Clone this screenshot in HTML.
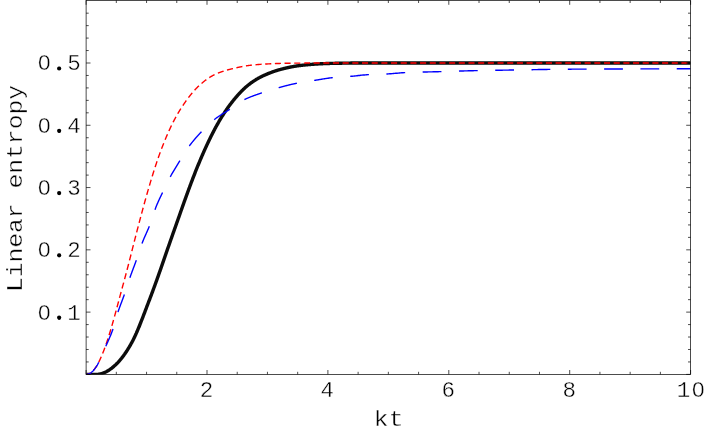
<!DOCTYPE html>
<html><head><meta charset="utf-8"><title>Linear entropy</title>
<style>
html,body{margin:0;padding:0;background:#fff;}
body{width:705px;height:436px;overflow:hidden;}
svg{display:block;}
svg{will-change:transform;}
text{font-family:"Liberation Mono",monospace;font-size:22.5px;letter-spacing:1.30px;fill:#000;stroke:#fff;stroke-width:0.38px;stroke-linejoin:round;}
text.lt{font-size:22px;letter-spacing:0;stroke-width:0.35px;}
</style></head><body>
<svg width="705" height="436" viewBox="0 0 705 436">
<rect width="705" height="436" fill="#fff"/>
<defs><clipPath id="c"><rect x="86.1" y="0.4" width="604.50" height="374.00"/></clipPath></defs>
<g clip-path="url(#c)" fill="none" stroke-linecap="butt" stroke-linejoin="round">
<path d="M86.40,374.40 L86.70,374.40 L87.00,374.40 L87.31,374.40 L87.61,374.40 L87.91,374.40 L88.21,374.40 L88.51,374.40 L88.82,374.40 L89.12,374.40 L89.42,374.40 L89.72,374.40 L90.03,374.40 L90.33,374.40 L90.63,374.40 L90.93,374.40 L91.23,374.40 L91.54,374.40 L91.84,374.40 L92.14,374.40 L92.44,374.40 L92.74,374.40 L93.05,374.40 L93.35,374.40 L93.65,374.40 L93.95,374.40 L94.25,374.40 L94.56,374.40 L94.86,374.40 L95.16,374.40 L95.46,374.40 L95.77,374.40 L96.07,374.40 L96.37,374.40 L96.67,374.40 L96.97,374.40 L97.28,374.40 L97.58,374.40 L97.88,374.40 L98.18,374.35 L98.48,374.30 L98.79,374.25 L99.09,374.19 L99.39,374.13 L99.69,374.07 L99.99,374.00 L100.30,373.93 L100.60,373.86 L100.90,373.78 L101.20,373.70 L101.51,373.61 L101.81,373.52 L102.11,373.43 L102.41,373.33 L102.71,373.23 L103.02,373.13 L103.32,373.02 L103.62,372.91 L103.92,372.79 L104.22,372.67 L104.53,372.54 L104.83,372.41 L105.13,372.27 L105.43,372.13 L105.73,371.98 L106.04,371.83 L106.34,371.67 L106.64,371.51 L106.94,371.34 L107.24,371.17 L107.55,370.99 L107.85,370.81 L108.15,370.63 L108.45,370.44 L108.76,370.24 L109.06,370.04 L109.36,369.84 L109.66,369.63 L109.96,369.42 L110.27,369.21 L110.57,368.99 L110.87,368.77 L111.17,368.54 L111.47,368.31 L111.78,368.08 L112.08,367.84 L112.38,367.60 L112.68,367.36 L112.98,367.11 L113.29,366.86 L113.59,366.61 L113.89,366.35 L114.19,366.09 L114.50,365.82 L114.80,365.55 L115.10,365.28 L115.40,365.00 L115.70,364.72 L116.01,364.43 L116.31,364.13 L116.61,363.84 L116.91,363.53 L117.21,363.23 L117.52,362.91 L117.82,362.60 L118.12,362.27 L118.42,361.95 L118.72,361.62 L119.03,361.28 L119.33,360.94 L119.63,360.59 L119.93,360.24 L120.24,359.88 L120.54,359.52 L120.84,359.16 L121.14,358.79 L121.44,358.41 L121.75,358.03 L122.05,357.64 L122.35,357.25 L122.65,356.86 L122.95,356.46 L123.26,356.05 L123.56,355.64 L123.86,355.22 L124.16,354.80 L124.46,354.38 L124.77,353.95 L125.07,353.51 L125.37,353.07 L125.67,352.62 L125.98,352.17 L126.28,351.72 L126.58,351.26 L126.88,350.79 L127.18,350.32 L127.49,349.84 L127.79,349.36 L128.09,348.87 L128.39,348.38 L128.69,347.89 L129.00,347.39 L129.30,346.88 L129.60,346.37 L129.90,345.85 L130.20,345.33 L130.51,344.80 L130.81,344.27 L131.11,343.73 L131.41,343.19 L131.72,342.65 L132.02,342.09 L132.32,341.53 L132.62,340.95 L132.92,340.37 L133.23,339.78 L133.53,339.17 L133.83,338.56 L134.13,337.94 L134.43,337.31 L134.74,336.67 L135.04,336.03 L135.34,335.37 L135.64,334.71 L135.94,334.04 L136.25,333.37 L136.55,332.68 L136.85,331.99 L137.15,331.29 L137.45,330.59 L137.76,329.88 L138.06,329.16 L138.36,328.44 L138.66,327.71 L138.97,326.98 L139.27,326.24 L139.57,325.50 L139.87,324.75 L140.17,323.99 L140.48,323.24 L140.78,322.47 L141.08,321.71 L141.38,320.94 L141.68,320.16 L141.99,319.39 L142.29,318.61 L142.59,317.83 L142.89,317.04 L143.19,316.26 L143.50,315.47 L143.80,314.67 L144.10,313.88 L144.40,313.09 L144.71,312.29 L145.01,311.49 L145.31,310.70 L145.61,309.90 L145.91,309.10 L146.22,308.30 L146.52,307.50 L146.82,306.70 L147.12,305.91 L147.42,305.11 L147.73,304.31 L148.03,303.52 L148.33,302.73 L148.63,301.93 L148.93,301.15 L149.24,300.36 L149.54,299.57 L149.84,298.78 L150.14,297.99 L150.45,297.19 L150.75,296.39 L151.05,295.59 L151.35,294.79 L151.65,293.98 L151.96,293.18 L152.26,292.37 L152.56,291.55 L152.86,290.74 L153.16,289.92 L153.47,289.10 L153.77,288.28 L154.07,287.46 L154.37,286.63 L154.67,285.80 L154.98,284.97 L155.28,284.14 L155.58,283.31 L155.88,282.47 L156.19,281.63 L156.49,280.80 L156.79,279.95 L157.09,279.11 L157.39,278.26 L157.70,277.42 L158.00,276.57 L158.30,275.72 L158.60,274.87 L158.90,274.01 L159.21,273.16 L159.51,272.30 L159.81,271.44 L160.11,270.58 L160.41,269.72 L160.72,268.86 L161.02,267.99 L161.32,267.13 L161.62,266.26 L161.93,265.40 L162.23,264.53 L162.53,263.66 L162.83,262.78 L163.13,261.91 L163.44,261.04 L163.74,260.16 L164.04,259.29 L164.34,258.41 L164.64,257.53 L164.95,256.66 L165.25,255.78 L165.55,254.90 L165.85,254.02 L166.15,253.15 L166.46,252.28 L166.76,251.40 L167.06,250.53 L167.36,249.66 L167.66,248.79 L167.97,247.93 L168.27,247.06 L168.57,246.19 L168.87,245.33 L169.18,244.46 L169.48,243.60 L169.78,242.74 L170.08,241.88 L170.38,241.02 L170.69,240.16 L170.99,239.30 L171.29,238.44 L171.59,237.58 L171.89,236.72 L172.20,235.86 L172.50,235.01 L172.80,234.15 L173.10,233.29 L173.40,232.44 L173.71,231.58 L174.01,230.73 L174.31,229.87 L174.61,229.02 L174.92,228.16 L175.22,227.31 L175.52,226.46 L175.82,225.60 L176.12,224.75 L176.43,223.89 L176.73,223.04 L177.03,222.19 L177.33,221.33 L177.63,220.48 L177.94,219.62 L178.24,218.77 L178.54,217.91 L178.84,217.06 L179.14,216.20 L179.45,215.35 L179.75,214.49 L180.05,213.63 L180.35,212.78 L180.66,211.92 L180.96,211.06 L181.26,210.20 L181.56,209.35 L181.86,208.49 L182.17,207.64 L182.47,206.79 L182.77,205.93 L183.07,205.08 L183.37,204.23 L183.68,203.38 L183.98,202.54 L184.28,201.69 L184.58,200.85 L184.88,200.00 L185.19,199.16 L185.49,198.32 L185.79,197.48 L186.09,196.64 L186.40,195.81 L186.70,194.97 L187.00,194.14 L187.30,193.31 L187.60,192.48 L187.91,191.65 L188.21,190.83 L188.51,190.01 L188.81,189.19 L189.11,188.37 L189.42,187.55 L189.72,186.74 L190.02,185.92 L190.32,185.11 L190.62,184.31 L190.93,183.50 L191.23,182.70 L191.53,181.90 L191.83,181.10 L192.13,180.30 L192.44,179.51 L192.74,178.72 L193.04,177.93 L193.34,177.15 L193.65,176.36 L193.95,175.58 L194.25,174.81 L194.55,174.03 L194.85,173.26 L195.16,172.49 L195.46,171.73 L195.76,170.96 L196.06,170.20 L196.36,169.45 L196.67,168.69 L196.97,167.94 L197.27,167.20 L197.57,166.45 L197.87,165.71 L198.18,164.97 L198.48,164.24 L198.78,163.51 L199.08,162.78 L199.39,162.05 L199.69,161.33 L199.99,160.61 L200.29,159.90 L200.59,159.18 L200.90,158.47 L201.20,157.76 L201.50,157.06 L201.80,156.36 L202.10,155.66 L202.41,154.97 L202.71,154.27 L203.01,153.58 L203.31,152.90 L203.61,152.22 L203.92,151.54 L204.22,150.86 L204.52,150.18 L204.82,149.51 L205.13,148.85 L205.43,148.18 L205.73,147.52 L206.03,146.86 L206.33,146.20 L206.64,145.55 L206.94,144.90 L207.24,144.25 L207.54,143.61 L207.84,142.97 L208.15,142.33 L208.45,141.69 L208.75,141.06 L209.05,140.43 L209.35,139.80 L209.66,139.18 L209.96,138.56 L210.26,137.94 L210.56,137.32 L210.87,136.71 L211.17,136.10 L211.47,135.49 L211.77,134.89 L212.07,134.29 L212.38,133.70 L212.68,133.11 L212.98,132.52 L213.28,131.93 L213.58,131.35 L213.89,130.77 L214.19,130.20 L214.49,129.63 L214.79,129.06 L215.09,128.50 L215.40,127.94 L215.70,127.38 L216.00,126.82 L216.30,126.27 L216.61,125.73 L216.91,125.18 L217.21,124.64 L217.51,124.10 L217.81,123.57 L218.12,123.04 L218.42,122.51 L218.72,121.99 L219.02,121.47 L219.32,120.95 L219.63,120.44 L219.93,119.93 L220.23,119.42 L220.53,118.91 L220.83,118.41 L221.14,117.92 L221.44,117.42 L221.74,116.93 L222.04,116.44 L222.34,115.96 L222.65,115.48 L222.95,115.00 L223.25,114.53 L223.55,114.05 L223.86,113.59 L224.16,113.12 L224.46,112.66 L224.76,112.20 L225.06,111.74 L225.37,111.29 L225.67,110.84 L225.97,110.39 L226.27,109.95 L226.57,109.51 L226.88,109.07 L227.18,108.64 L227.48,108.21 L227.78,107.78 L228.08,107.36 L228.39,106.93 L228.69,106.51 L228.99,106.10 L229.29,105.68 L229.60,105.27 L229.90,104.87 L230.20,104.46 L230.50,104.06 L230.80,103.66 L231.11,103.27 L231.41,102.87 L231.71,102.48 L232.01,102.10 L232.31,101.71 L232.62,101.33 L232.92,100.95 L233.22,100.57 L233.52,100.20 L233.82,99.83 L234.13,99.46 L234.43,99.09 L234.73,98.73 L235.03,98.37 L235.34,98.01 L235.64,97.66 L235.94,97.31 L236.24,96.95 L236.54,96.61 L236.85,96.26 L237.15,95.91 L237.45,95.57 L237.75,95.23 L238.05,94.90 L238.36,94.56 L238.66,94.23 L238.96,93.90 L239.26,93.57 L239.56,93.25 L239.87,92.93 L240.17,92.61 L240.47,92.29 L240.77,91.98 L241.08,91.66 L241.38,91.35 L241.68,91.05 L241.98,90.74 L242.28,90.44 L242.59,90.14 L242.89,89.85 L243.19,89.55 L243.49,89.26 L243.79,88.98 L244.10,88.69 L244.40,88.41 L244.70,88.13 L245.00,87.85 L245.30,87.58 L245.61,87.31 L245.91,87.04 L246.21,86.77 L246.51,86.51 L246.82,86.25 L247.12,86.00 L247.42,85.74 L247.72,85.49 L248.02,85.25 L248.33,85.00 L248.63,84.76 L248.93,84.52 L249.23,84.29 L249.53,84.05 L249.84,83.82 L250.14,83.60 L250.44,83.37 L250.74,83.15 L251.04,82.93 L251.35,82.71 L251.65,82.50 L251.95,82.28 L252.25,82.07 L252.56,81.86 L252.86,81.65 L253.16,81.45 L253.46,81.25 L253.76,81.04 L254.07,80.85 L254.37,80.65 L254.67,80.46 L254.97,80.26 L255.27,80.07 L255.58,79.88 L255.88,79.70 L256.18,79.51 L256.48,79.33 L256.78,79.15 L257.09,78.97 L257.39,78.80 L257.69,78.62 L257.99,78.45 L258.29,78.28 L258.60,78.11 L258.90,77.94 L259.20,77.78 L259.50,77.61 L259.81,77.45 L260.11,77.29 L260.41,77.13 L260.71,76.98 L261.01,76.82 L261.32,76.67 L261.62,76.52 L261.92,76.37 L262.22,76.22 L262.52,76.08 L262.83,75.93 L263.13,75.79 L263.43,75.65 L263.73,75.51 L264.03,75.37 L264.34,75.24 L264.64,75.10 L264.94,74.97 L265.24,74.84 L265.55,74.70 L265.85,74.57 L266.15,74.44 L266.45,74.32 L266.75,74.19 L267.06,74.06 L267.36,73.93 L267.66,73.81 L267.96,73.68 L268.26,73.56 L268.57,73.44 L268.87,73.32 L269.17,73.20 L269.47,73.08 L269.77,72.96 L270.08,72.84 L270.38,72.72 L270.68,72.61 L270.98,72.49 L271.29,72.38 L271.59,72.26 L271.89,72.15 L272.19,72.04 L272.49,71.93 L272.80,71.82 L273.10,71.71 L273.40,71.61 L273.70,71.50 L274.00,71.40 L274.31,71.29 L274.61,71.19 L274.91,71.09 L275.21,70.99 L275.51,70.89 L275.82,70.79 L276.12,70.69 L276.42,70.60 L276.72,70.50 L277.03,70.41 L277.33,70.31 L277.63,70.22 L277.93,70.13 L278.23,70.04 L278.54,69.95 L278.84,69.87 L279.14,69.78 L279.44,69.69 L279.74,69.61 L280.05,69.53 L280.35,69.45 L280.65,69.36 L280.95,69.28 L281.25,69.20 L281.56,69.12 L281.86,69.04 L282.16,68.97 L282.46,68.89 L282.76,68.81 L283.07,68.74 L283.37,68.66 L283.67,68.58 L283.97,68.51 L284.28,68.44 L284.58,68.36 L284.88,68.29 L285.18,68.22 L285.48,68.15 L285.79,68.08 L286.09,68.01 L286.39,67.94 L286.69,67.87 L286.99,67.80 L287.30,67.73 L287.60,67.67 L287.90,67.60 L288.20,67.53 L288.50,67.47 L288.81,67.40 L289.11,67.34 L289.41,67.28 L289.71,67.22 L290.02,67.15 L290.32,67.09 L290.62,67.03 L290.92,66.97 L291.22,66.92 L291.53,66.86 L291.83,66.80 L292.13,66.74 L292.43,66.69 L292.73,66.63 L293.04,66.58 L293.34,66.52 L293.64,66.47 L293.94,66.42 L294.24,66.37 L294.55,66.31 L294.85,66.26 L295.15,66.21 L295.45,66.17 L295.76,66.12 L296.06,66.07 L296.36,66.02 L296.66,65.98 L296.96,65.93 L297.27,65.89 L297.57,65.84 L297.87,65.80 L298.17,65.76 L298.47,65.72 L298.78,65.68 L299.08,65.64 L299.38,65.60 L299.68,65.56 L299.98,65.52 L300.29,65.48 L300.59,65.45 L300.89,65.41 L301.19,65.38 L301.50,65.34 L301.80,65.31 L302.10,65.27 L302.40,65.24 L302.70,65.20 L303.01,65.17 L303.31,65.14 L303.61,65.10 L303.91,65.07 L304.21,65.04 L304.52,65.01 L304.82,64.98 L305.12,64.95 L305.42,64.91 L305.72,64.88 L306.03,64.85 L306.33,64.83 L306.63,64.80 L306.93,64.77 L307.24,64.74 L307.54,64.71 L307.84,64.68 L308.14,64.66 L308.44,64.63 L308.75,64.60 L309.05,64.58 L309.35,64.55 L309.65,64.53 L309.95,64.50 L310.26,64.47 L310.56,64.45 L310.86,64.43 L311.16,64.40 L311.46,64.38 L311.77,64.35 L312.07,64.33 L312.37,64.31 L312.67,64.29 L312.98,64.26 L313.28,64.24 L313.58,64.22 L313.88,64.20 L314.18,64.18 L314.49,64.16 L314.79,64.14 L315.09,64.12 L315.39,64.10 L315.69,64.08 L316.00,64.06 L316.30,64.04 L316.60,64.02 L316.90,64.00 L317.20,63.98 L317.51,63.96 L317.81,63.95 L318.11,63.93 L318.41,63.91 L318.71,63.89 L319.02,63.88 L319.32,63.86 L319.62,63.84 L319.92,63.83 L320.23,63.81 L320.53,63.80 L320.83,63.78 L321.13,63.77 L321.43,63.75 L321.74,63.74 L322.04,63.72 L322.34,63.71 L322.64,63.70 L322.94,63.68 L323.25,63.67 L323.55,63.66 L323.85,63.64 L324.15,63.63 L324.45,63.62 L324.76,63.61 L325.06,63.59 L325.36,63.58 L325.66,63.57 L325.97,63.56 L326.27,63.55 L326.57,63.54 L326.87,63.53 L327.17,63.52 L327.48,63.51 L327.78,63.50 L328.08,63.49 L329.29,63.45 L330.50,63.42 L331.71,63.39 L332.91,63.36 L334.12,63.33 L335.33,63.30 L336.54,63.28 L337.75,63.25 L338.96,63.23 L340.16,63.21 L341.37,63.19 L342.58,63.17 L343.79,63.15 L345.00,63.13 L346.21,63.12 L347.41,63.10 L348.62,63.09 L349.83,63.08 L351.04,63.07 L352.25,63.06 L353.46,63.05 L354.66,63.04 L355.87,63.04 L357.08,63.03 L358.29,63.03 L359.50,63.03 L360.71,63.02 L361.92,63.02 L363.12,63.02 L364.33,63.02 L365.54,63.02 L366.75,63.02 L367.96,63.01 L369.17,63.01 L370.37,63.01 L371.58,63.01 L372.79,63.01 L374.00,63.01 L375.21,63.01 L376.42,63.01 L377.62,63.01 L378.83,63.01 L380.04,63.01 L381.25,63.00 L382.46,63.00 L383.67,63.00 L384.87,63.00 L386.08,63.00 L387.29,63.00 L388.50,63.00 L389.71,63.00 L390.92,63.00 L392.13,63.00 L393.33,63.00 L394.54,63.00 L395.75,63.00 L396.96,63.00 L398.17,63.00 L399.38,63.00 L400.58,63.00 L401.79,63.00 L403.00,63.00 L404.21,63.00 L405.42,63.00 L406.63,63.00 L407.83,63.00 L409.04,63.00 L410.25,63.00 L411.46,63.00 L412.67,63.00 L413.88,63.00 L415.08,63.00 L416.29,63.00 L417.50,63.00 L418.71,63.00 L419.92,63.00 L421.13,63.00 L422.34,63.00 L423.54,63.00 L424.75,63.00 L425.96,63.00 L427.17,63.00 L428.38,63.00 L429.59,63.00 L430.79,63.00 L432.00,63.00 L433.21,63.00 L434.42,63.00 L435.63,63.00 L436.84,63.00 L438.04,63.00 L439.25,63.00 L440.46,63.00 L441.67,63.00 L442.88,63.00 L444.09,63.00 L445.29,63.00 L446.50,63.00 L447.71,63.00 L448.92,63.00 L450.13,63.00 L451.34,63.00 L452.55,63.00 L453.75,63.00 L454.96,63.00 L456.17,63.00 L457.38,63.00 L458.59,63.00 L459.80,63.00 L461.00,63.00 L462.21,63.00 L463.42,63.00 L464.63,63.00 L465.84,63.00 L467.05,63.00 L468.25,63.00 L469.46,63.00 L470.67,63.00 L471.88,63.00 L473.09,63.00 L474.30,63.00 L475.50,63.00 L476.71,63.00 L477.92,63.00 L479.13,63.00 L480.34,63.00 L481.55,63.00 L482.76,63.00 L483.96,63.00 L485.17,63.00 L486.38,63.00 L487.59,63.00 L488.80,63.00 L490.01,63.00 L491.21,63.00 L492.42,63.00 L493.63,63.00 L494.84,63.00 L496.05,63.00 L497.26,63.00 L498.46,63.00 L499.67,63.00 L500.88,63.00 L502.09,63.00 L503.30,63.00 L504.51,63.00 L505.71,63.00 L506.92,63.00 L508.13,63.00 L509.34,63.00 L510.55,63.00 L511.76,63.00 L512.97,63.00 L514.17,63.00 L515.38,63.00 L516.59,63.00 L517.80,63.00 L519.01,63.00 L520.22,63.00 L521.42,63.00 L522.63,63.00 L523.84,63.00 L525.05,63.00 L526.26,63.00 L527.47,63.00 L528.67,63.00 L529.88,63.00 L531.09,63.00 L532.30,63.00 L533.51,63.00 L534.72,63.00 L535.92,63.00 L537.13,63.00 L538.34,63.00 L539.55,63.00 L540.76,63.00 L541.97,63.00 L543.18,63.00 L544.38,63.00 L545.59,63.00 L546.80,63.00 L548.01,63.00 L549.22,63.00 L550.43,63.00 L551.63,63.00 L552.84,63.00 L554.05,63.00 L555.26,63.00 L556.47,63.00 L557.68,63.00 L558.88,63.00 L560.09,63.00 L561.30,63.00 L562.51,63.00 L563.72,63.00 L564.93,63.00 L566.13,63.00 L567.34,63.00 L568.55,63.00 L569.76,63.00 L570.97,63.00 L572.18,63.00 L573.39,63.00 L574.59,63.00 L575.80,63.00 L577.01,63.00 L578.22,63.00 L579.43,63.00 L580.64,63.00 L581.84,63.00 L583.05,63.00 L584.26,63.00 L585.47,63.00 L586.68,63.00 L587.89,63.00 L589.09,63.00 L590.30,63.00 L591.51,63.00 L592.72,63.00 L593.93,63.00 L595.14,63.00 L596.34,63.00 L597.55,63.00 L598.76,63.00 L599.97,63.00 L601.18,63.00 L602.39,63.00 L603.60,63.00 L604.80,63.00 L606.01,63.00 L607.22,63.00 L608.43,63.00 L609.64,63.00 L610.85,63.00 L612.05,63.00 L613.26,63.00 L614.47,63.00 L615.68,63.00 L616.89,63.00 L618.10,63.00 L619.30,63.00 L620.51,63.00 L621.72,63.00 L622.93,63.00 L624.14,63.00 L625.35,63.00 L626.55,63.00 L627.76,63.00 L628.97,63.00 L630.18,63.00 L631.39,63.00 L632.60,63.00 L633.81,63.00 L635.01,63.00 L636.22,63.00 L637.43,63.00 L638.64,63.00 L639.85,63.00 L641.06,63.00 L642.26,63.00 L643.47,63.00 L644.68,63.00 L645.89,63.00 L647.10,63.00 L648.31,63.00 L649.51,63.00 L650.72,63.00 L651.93,63.00 L653.14,63.00 L654.35,63.00 L655.56,63.00 L656.76,63.00 L657.97,63.00 L659.18,63.00 L660.39,63.00 L661.60,63.00 L662.81,63.00 L664.02,63.00 L665.22,63.00 L666.43,63.00 L667.64,63.00 L668.85,63.00 L670.06,63.00 L671.27,63.00 L672.47,63.00 L673.68,63.00 L674.89,63.00 L676.10,63.00 L677.31,63.00 L678.52,63.00 L679.72,63.00 L680.93,63.00 L682.14,63.00 L683.35,63.00 L684.56,63.00 L685.77,63.00 L686.97,63.00 L688.18,63.00 L689.39,63.00 L690.60,63.00" stroke="#0c0c0c" stroke-width="3.4"/>
<path d="M86.40,374.40 L86.70,374.39 L87.00,374.37 L87.31,374.33 L87.61,374.28 L87.91,374.21 L88.21,374.13 L88.51,374.03 L88.82,373.92 L89.12,373.79 L89.42,373.65 L89.72,373.49 L90.03,373.32 L90.33,373.13 L90.63,372.93 L90.93,372.71 L91.23,372.47 L91.54,372.23 L91.84,371.96 L92.14,371.68 L92.44,371.39 L92.74,371.08 L93.05,370.76 L93.35,370.43 L93.65,370.08 L93.95,369.71 L94.25,369.33 L94.56,368.94 L94.86,368.53 L95.16,368.11 L95.46,367.68 L95.77,367.23 L96.07,366.77 L96.37,366.29 L96.67,365.81 L96.97,365.30 L97.28,364.79 L97.58,364.26 L97.88,363.72 L98.18,363.16 L98.48,362.60 L98.79,362.02 L99.09,361.42 L99.39,360.82 L99.69,360.20 L99.99,359.56 L100.30,358.91 L100.60,358.25 L100.90,357.58 L101.20,356.90 L101.51,356.20 L101.81,355.49 L102.11,354.77 L102.41,354.03 L102.71,353.29 L103.02,352.53 L103.32,351.76 L103.62,350.98 L103.92,350.19 L104.22,349.39 L104.53,348.58 L104.83,347.76 L105.13,346.92 L105.43,346.08 L105.73,345.23 L106.04,344.36 L106.34,343.49 L106.64,342.61 L106.94,341.71 L107.24,340.81 L107.55,339.90 L107.85,338.98 L108.15,338.05 L108.45,337.12 L108.76,336.17 L109.06,335.21 L109.36,334.24 L109.66,333.27 L109.96,332.28 L110.27,331.28 L110.57,330.28 L110.87,329.26 L111.17,328.24 L111.47,327.21 L111.78,326.18 L112.08,325.13 L112.38,324.08 L112.68,323.02 L112.98,321.95 L113.29,320.88 L113.59,319.81 L113.89,318.72 L114.19,317.63 L114.50,316.54 L114.80,315.44 L115.10,314.34 L115.40,313.23 L115.70,312.12 L116.01,311.00 L116.31,309.88 L116.61,308.76 L116.91,307.64 L117.21,306.51 L117.52,305.38 L117.82,304.25 L118.12,303.11 L118.42,301.98 L118.72,300.84 L119.03,299.70 L119.33,298.57 L119.63,297.43 L119.93,296.31 L120.24,295.18 L120.54,294.06 L120.84,292.95 L121.14,291.83 L121.44,290.72 L121.75,289.61 L122.05,288.50 L122.35,287.40 L122.65,286.29 L122.95,285.18 L123.26,284.07 L123.56,282.97 L123.86,281.86 L124.16,280.75 L124.46,279.63 L124.77,278.52 L125.07,277.40 L125.37,276.28 L125.67,275.15 L125.98,274.02 L126.28,272.89 L126.58,271.75 L126.88,270.61 L127.18,269.46 L127.49,268.30 L127.79,267.14 L128.09,265.97 L128.39,264.79 L128.69,263.60 L129.00,262.41 L129.30,261.22 L129.60,260.03 L129.90,258.84 L130.20,257.65 L130.51,256.46 L130.81,255.26 L131.11,254.07 L131.41,252.88 L131.72,251.69 L132.02,250.50 L132.32,249.31 L132.62,248.13 L132.92,246.94 L133.23,245.75 L133.53,244.57 L133.83,243.38 L134.13,242.20 L134.43,241.02 L134.74,239.84 L135.04,238.66 L135.34,237.48 L135.64,236.30 L135.94,235.13 L136.25,233.96 L136.55,232.78 L136.85,231.62 L137.15,230.45 L137.45,229.28 L137.76,228.12 L138.06,226.96 L138.36,225.80 L138.66,224.64 L138.97,223.49 L139.27,222.34 L139.57,221.19 L139.87,220.04 L140.17,218.89 L140.48,217.75 L140.78,216.61 L141.08,215.48 L141.38,214.34 L141.68,213.22 L141.99,212.09 L142.29,210.97 L142.59,209.85 L142.89,208.73 L143.19,207.62 L143.50,206.51 L143.80,205.41 L144.10,204.31 L144.40,203.21 L144.71,202.12 L145.01,201.03 L145.31,199.94 L145.61,198.86 L145.91,197.79 L146.22,196.72 L146.52,195.65 L146.82,194.58 L147.12,193.52 L147.42,192.47 L147.73,191.42 L148.03,190.37 L148.33,189.33 L148.63,188.29 L148.93,187.26 L149.24,186.23 L149.54,185.21 L149.84,184.19 L150.14,183.17 L150.45,182.16 L150.75,181.16 L151.05,180.16 L151.35,179.16 L151.65,178.17 L151.96,177.19 L152.26,176.20 L152.56,175.23 L152.86,174.26 L153.16,173.29 L153.47,172.33 L153.77,171.37 L154.07,170.42 L154.37,169.48 L154.67,168.54 L154.98,167.60 L155.28,166.67 L155.58,165.75 L155.88,164.82 L156.19,163.91 L156.49,163.00 L156.79,162.10 L157.09,161.21 L157.39,160.32 L157.70,159.44 L158.00,158.56 L158.30,157.70 L158.60,156.83 L158.90,155.98 L159.21,155.13 L159.51,154.29 L159.81,153.45 L160.11,152.62 L160.41,151.80 L160.72,150.98 L161.02,150.17 L161.32,149.36 L161.62,148.56 L161.93,147.77 L162.23,146.98 L162.53,146.20 L162.83,145.43 L163.13,144.66 L163.44,143.89 L163.74,143.14 L164.04,142.38 L164.34,141.64 L164.64,140.90 L164.95,140.16 L165.25,139.43 L165.55,138.71 L165.85,137.99 L166.15,137.27 L166.46,136.57 L166.76,135.86 L167.06,135.16 L167.36,134.47 L167.66,133.78 L167.97,133.10 L168.27,132.42 L168.57,131.75 L168.87,131.08 L169.18,130.42 L169.48,129.76 L169.78,129.11 L170.08,128.46 L170.38,127.81 L170.69,127.17 L170.99,126.54 L171.29,125.91 L171.59,125.28 L171.89,124.67 L172.20,124.05 L172.50,123.45 L172.80,122.85 L173.10,122.25 L173.40,121.66 L173.71,121.08 L174.01,120.50 L174.31,119.93 L174.61,119.36 L174.92,118.79 L175.22,118.24 L175.52,117.68 L175.82,117.14 L176.12,116.59 L176.43,116.06 L176.73,115.52 L177.03,114.99 L177.33,114.47 L177.63,113.95 L177.94,113.43 L178.24,112.92 L178.54,112.41 L178.84,111.91 L179.14,111.41 L179.45,110.92 L179.75,110.43 L180.05,109.94 L180.35,109.45 L180.66,108.97 L180.96,108.50 L181.26,108.02 L181.56,107.55 L181.86,107.09 L182.17,106.62 L182.47,106.16 L182.77,105.70 L183.07,105.25 L183.37,104.80 L183.68,104.35 L183.98,103.90 L184.28,103.46 L184.58,103.01 L184.88,102.57 L185.19,102.14 L185.49,101.70 L185.79,101.27 L186.09,100.85 L186.40,100.42 L186.70,100.00 L187.00,99.59 L187.30,99.17 L187.60,98.76 L187.91,98.36 L188.21,97.95 L188.51,97.55 L188.81,97.16 L189.11,96.76 L189.42,96.37 L189.72,95.99 L190.02,95.61 L190.32,95.23 L190.62,94.85 L190.93,94.48 L191.23,94.11 L191.53,93.74 L191.83,93.38 L192.13,93.02 L192.44,92.66 L192.74,92.31 L193.04,91.96 L193.34,91.61 L193.65,91.27 L193.95,90.93 L194.25,90.59 L194.55,90.26 L194.85,89.93 L195.16,89.60 L195.46,89.28 L195.76,88.96 L196.06,88.64 L196.36,88.33 L196.67,88.02 L196.97,87.71 L197.27,87.41 L197.57,87.11 L197.87,86.81 L198.18,86.52 L198.48,86.23 L198.78,85.94 L199.08,85.66 L199.39,85.38 L199.69,85.10 L199.99,84.82 L200.29,84.55 L200.59,84.28 L200.90,84.02 L201.20,83.75 L201.50,83.49 L201.80,83.23 L202.10,82.97 L202.41,82.72 L202.71,82.46 L203.01,82.21 L203.31,81.96 L203.61,81.72 L203.92,81.48 L204.22,81.24 L204.52,81.00 L204.82,80.76 L205.13,80.53 L205.43,80.30 L205.73,80.07 L206.03,79.85 L206.33,79.63 L206.64,79.41 L206.94,79.19 L207.24,78.98 L207.54,78.77 L207.84,78.56 L208.15,78.35 L208.45,78.15 L208.75,77.95 L209.05,77.75 L209.35,77.56 L209.66,77.37 L209.96,77.18 L210.26,76.99 L210.56,76.81 L210.87,76.63 L211.17,76.45 L211.47,76.28 L211.77,76.11 L212.07,75.94 L212.38,75.78 L212.68,75.62 L212.98,75.46 L213.28,75.30 L213.58,75.14 L213.89,74.99 L214.19,74.84 L214.49,74.70 L214.79,74.55 L215.09,74.41 L215.40,74.26 L215.70,74.13 L216.00,73.99 L216.30,73.85 L216.61,73.72 L216.91,73.59 L217.21,73.46 L217.51,73.33 L217.81,73.20 L218.12,73.08 L218.42,72.96 L218.72,72.84 L219.02,72.72 L219.32,72.60 L219.63,72.49 L219.93,72.37 L220.23,72.26 L220.53,72.15 L220.83,72.04 L221.14,71.93 L221.44,71.82 L221.74,71.72 L222.04,71.62 L222.34,71.51 L222.65,71.41 L222.95,71.31 L223.25,71.22 L223.55,71.12 L223.86,71.02 L224.16,70.93 L224.46,70.83 L224.76,70.74 L225.06,70.65 L225.37,70.56 L225.67,70.47 L225.97,70.38 L226.27,70.30 L226.57,70.21 L226.88,70.13 L227.18,70.04 L227.48,69.96 L227.78,69.88 L228.08,69.79 L228.39,69.71 L228.69,69.63 L228.99,69.55 L229.29,69.48 L229.60,69.40 L229.90,69.32 L230.20,69.24 L230.50,69.17 L230.80,69.09 L231.11,69.01 L231.41,68.94 L231.71,68.86 L232.01,68.79 L232.31,68.71 L232.62,68.64 L232.92,68.57 L233.22,68.49 L233.52,68.42 L233.82,68.35 L234.13,68.28 L234.43,68.20 L234.73,68.13 L235.03,68.06 L235.34,67.99 L235.64,67.92 L235.94,67.85 L236.24,67.78 L236.54,67.72 L236.85,67.65 L237.15,67.58 L237.45,67.51 L237.75,67.45 L238.05,67.38 L238.36,67.32 L238.66,67.25 L238.96,67.19 L239.26,67.13 L239.56,67.06 L239.87,67.00 L240.17,66.94 L240.47,66.88 L240.77,66.82 L241.08,66.76 L241.38,66.70 L241.68,66.64 L241.98,66.58 L242.28,66.52 L242.59,66.47 L242.89,66.41 L243.19,66.36 L243.49,66.30 L243.79,66.25 L244.10,66.20 L244.40,66.14 L244.70,66.09 L245.00,66.04 L245.30,65.99 L245.61,65.94 L245.91,65.89 L246.21,65.85 L246.51,65.80 L246.82,65.75 L247.12,65.71 L247.42,65.66 L247.72,65.62 L248.02,65.58 L248.33,65.54 L248.63,65.50 L248.93,65.46 L249.23,65.42 L249.53,65.38 L249.84,65.34 L250.14,65.31 L250.44,65.27 L250.74,65.24 L251.04,65.20 L251.35,65.17 L251.65,65.14 L251.95,65.10 L252.25,65.07 L252.56,65.04 L252.86,65.01 L253.16,64.98 L253.46,64.95 L253.76,64.92 L254.07,64.89 L254.37,64.86 L254.67,64.83 L254.97,64.80 L255.27,64.77 L255.58,64.75 L255.88,64.72 L256.18,64.69 L256.48,64.67 L256.78,64.64 L257.09,64.61 L257.39,64.59 L257.69,64.56 L257.99,64.54 L258.29,64.52 L258.60,64.49 L258.90,64.47 L259.20,64.45 L259.50,64.42 L259.81,64.40 L260.11,64.38 L260.41,64.36 L260.71,64.34 L261.01,64.31 L261.32,64.29 L261.62,64.27 L261.92,64.25 L262.22,64.23 L262.52,64.21 L262.83,64.19 L263.13,64.17 L263.43,64.16 L263.73,64.14 L264.03,64.12 L264.34,64.10 L264.64,64.08 L264.94,64.07 L265.24,64.05 L265.55,64.03 L265.85,64.01 L266.15,64.00 L266.45,63.98 L266.75,63.96 L267.06,63.95 L267.36,63.93 L267.66,63.92 L267.96,63.90 L268.26,63.89 L268.57,63.87 L268.87,63.86 L269.17,63.84 L269.47,63.83 L269.77,63.82 L270.08,63.80 L270.38,63.79 L270.68,63.77 L270.98,63.76 L271.29,63.75 L271.59,63.73 L271.89,63.72 L272.19,63.71 L272.49,63.70 L272.80,63.68 L273.10,63.67 L273.40,63.66 L273.70,63.65 L274.00,63.63 L274.31,63.62 L274.61,63.61 L274.91,63.60 L275.21,63.59 L275.51,63.57 L275.82,63.56 L276.12,63.55 L276.42,63.54 L276.72,63.53 L277.03,63.52 L277.33,63.51 L277.63,63.50 L277.93,63.49 L278.23,63.48 L278.54,63.47 L278.84,63.46 L279.14,63.45 L279.44,63.44 L279.74,63.43 L280.05,63.42 L280.35,63.41 L280.65,63.40 L280.95,63.39 L281.25,63.38 L281.56,63.37 L281.86,63.36 L282.16,63.35 L282.46,63.35 L282.76,63.34 L283.07,63.33 L283.37,63.32 L283.67,63.31 L283.97,63.31 L284.28,63.30 L284.58,63.29 L284.88,63.29 L285.18,63.28 L285.48,63.27 L285.79,63.26 L286.09,63.26 L286.39,63.25 L286.69,63.25 L286.99,63.24 L287.30,63.23 L287.60,63.23 L287.90,63.22 L288.20,63.22 L288.50,63.21 L288.81,63.21 L289.11,63.20 L289.41,63.20 L289.71,63.19 L290.02,63.19 L290.32,63.19 L290.62,63.18 L290.92,63.18 L291.22,63.17 L291.53,63.17 L291.83,63.17 L292.13,63.16 L292.43,63.16 L292.73,63.16 L293.04,63.16 L293.34,63.15 L293.64,63.15 L293.94,63.15 L294.24,63.15 L294.55,63.14 L294.85,63.14 L295.15,63.14 L295.45,63.13 L295.76,63.13 L296.06,63.13 L296.36,63.13 L296.66,63.13 L296.96,63.12 L297.27,63.12 L297.57,63.12 L297.87,63.12 L298.17,63.11 L298.47,63.11 L298.78,63.11 L299.08,63.11 L299.38,63.11 L299.68,63.10 L299.98,63.10 L300.29,63.10 L300.59,63.10 L300.89,63.10 L301.19,63.09 L301.50,63.09 L301.80,63.09 L302.10,63.09 L302.40,63.09 L302.70,63.09 L303.01,63.08 L303.31,63.08 L303.61,63.08 L303.91,63.08 L304.21,63.08 L304.52,63.08 L304.82,63.08 L305.12,63.07 L305.42,63.07 L305.72,63.07 L306.03,63.07 L306.33,63.07 L306.63,63.07 L306.93,63.07 L307.24,63.07 L307.54,63.06 L307.84,63.06 L308.14,63.06 L308.44,63.06 L308.75,63.06 L309.05,63.06 L309.35,63.06 L309.65,63.06 L309.95,63.05 L310.26,63.05 L310.56,63.05 L310.86,63.05 L311.16,63.05 L311.46,63.05 L311.77,63.05 L312.07,63.05 L312.37,63.05 L312.67,63.05 L312.98,63.05 L313.28,63.04 L313.58,63.04 L313.88,63.04 L314.18,63.04 L314.49,63.04 L314.79,63.04 L315.09,63.04 L315.39,63.04 L315.69,63.04 L316.00,63.04 L316.30,63.04 L316.60,63.04 L316.90,63.04 L317.20,63.03 L317.51,63.03 L317.81,63.03 L318.11,63.03 L318.41,63.03 L318.71,63.03 L319.02,63.03 L319.32,63.03 L319.62,63.03 L319.92,63.03 L320.23,63.03 L320.53,63.03 L320.83,63.03 L321.13,63.03 L321.43,63.03 L321.74,63.03 L322.04,63.03 L322.34,63.02 L322.64,63.02 L322.94,63.02 L323.25,63.02 L323.55,63.02 L323.85,63.02 L324.15,63.02 L324.45,63.02 L324.76,63.02 L325.06,63.02 L325.36,63.02 L325.66,63.02 L325.97,63.02 L326.27,63.02 L326.57,63.02 L326.87,63.02 L327.17,63.02 L327.48,63.02 L327.78,63.02 L328.08,63.02 L329.29,63.02 L330.50,63.01 L331.71,63.01 L332.91,63.01 L334.12,63.01 L335.33,63.01 L336.54,63.01 L337.75,63.01 L338.96,63.01 L340.16,63.01 L341.37,63.01 L342.58,63.01 L343.79,63.01 L345.00,63.01 L346.21,63.01 L347.41,63.00 L348.62,63.00 L349.83,63.00 L351.04,63.00 L352.25,63.00 L353.46,63.00 L354.66,63.00 L355.87,63.00 L357.08,63.00 L358.29,63.00 L359.50,63.00 L360.71,63.00 L361.92,63.00 L363.12,63.00 L364.33,63.00 L365.54,63.00 L366.75,63.00 L367.96,63.00 L369.17,63.00 L370.37,63.00 L371.58,63.00 L372.79,63.00 L374.00,63.00 L375.21,63.00 L376.42,63.00 L377.62,63.00 L378.83,63.00 L380.04,63.00 L381.25,63.00 L382.46,63.00 L383.67,63.00 L384.87,63.00 L386.08,63.00 L387.29,63.00 L388.50,63.00 L389.71,63.00 L390.92,63.00 L392.13,63.00 L393.33,63.00 L394.54,63.00 L395.75,63.00 L396.96,63.00 L398.17,63.00 L399.38,63.00 L400.58,63.00 L401.79,63.00 L403.00,63.00 L404.21,63.00 L405.42,63.00 L406.63,63.00 L407.83,63.00 L409.04,63.00 L410.25,63.00 L411.46,63.00 L412.67,63.00 L413.88,63.00 L415.08,63.00 L416.29,63.00 L417.50,63.00 L418.71,63.00 L419.92,63.00 L421.13,63.00 L422.34,63.00 L423.54,63.00 L424.75,63.00 L425.96,63.00 L427.17,63.00 L428.38,63.00 L429.59,63.00 L430.79,63.00 L432.00,63.00 L433.21,63.00 L434.42,63.00 L435.63,63.00 L436.84,63.00 L438.04,63.00 L439.25,63.00 L440.46,63.00 L441.67,63.00 L442.88,63.00 L444.09,63.00 L445.29,63.00 L446.50,63.00 L447.71,63.00 L448.92,63.00 L450.13,63.00 L451.34,63.00 L452.55,63.00 L453.75,63.00 L454.96,63.00 L456.17,63.00 L457.38,63.00 L458.59,63.00 L459.80,63.00 L461.00,63.00 L462.21,63.00 L463.42,63.00 L464.63,63.00 L465.84,63.00 L467.05,63.00 L468.25,63.00 L469.46,63.00 L470.67,63.00 L471.88,63.00 L473.09,63.00 L474.30,63.00 L475.50,63.00 L476.71,63.00 L477.92,63.00 L479.13,63.00 L480.34,63.00 L481.55,63.00 L482.76,63.00 L483.96,63.00 L485.17,63.00 L486.38,63.00 L487.59,63.00 L488.80,63.00 L490.01,63.00 L491.21,63.00 L492.42,63.00 L493.63,63.00 L494.84,63.00 L496.05,63.00 L497.26,63.00 L498.46,63.00 L499.67,63.00 L500.88,63.00 L502.09,63.00 L503.30,63.00 L504.51,63.00 L505.71,63.00 L506.92,63.00 L508.13,63.00 L509.34,63.00 L510.55,63.00 L511.76,63.00 L512.97,63.00 L514.17,63.00 L515.38,63.00 L516.59,63.00 L517.80,63.00 L519.01,63.00 L520.22,63.00 L521.42,63.00 L522.63,63.00 L523.84,63.00 L525.05,63.00 L526.26,63.00 L527.47,63.00 L528.67,63.00 L529.88,63.00 L531.09,63.00 L532.30,63.00 L533.51,63.00 L534.72,63.00 L535.92,63.00 L537.13,63.00 L538.34,63.00 L539.55,63.00 L540.76,63.00 L541.97,63.00 L543.18,63.00 L544.38,63.00 L545.59,63.00 L546.80,63.00 L548.01,63.00 L549.22,63.00 L550.43,63.00 L551.63,63.00 L552.84,63.00 L554.05,63.00 L555.26,63.00 L556.47,63.00 L557.68,63.00 L558.88,63.00 L560.09,63.00 L561.30,63.00 L562.51,63.00 L563.72,63.00 L564.93,63.00 L566.13,63.00 L567.34,63.00 L568.55,63.00 L569.76,63.00 L570.97,63.00 L572.18,63.00 L573.39,63.00 L574.59,63.00 L575.80,63.00 L577.01,63.00 L578.22,63.00 L579.43,63.00 L580.64,63.00 L581.84,63.00 L583.05,63.00 L584.26,63.00 L585.47,63.00 L586.68,63.00 L587.89,63.00 L589.09,63.00 L590.30,63.00 L591.51,63.00 L592.72,63.00 L593.93,63.00 L595.14,63.00 L596.34,63.00 L597.55,63.00 L598.76,63.00 L599.97,63.00 L601.18,63.00 L602.39,63.00 L603.60,63.00 L604.80,63.00 L606.01,63.00 L607.22,63.00 L608.43,63.00 L609.64,63.00 L610.85,63.00 L612.05,63.00 L613.26,63.00 L614.47,63.00 L615.68,63.00 L616.89,63.00 L618.10,63.00 L619.30,63.00 L620.51,63.00 L621.72,63.00 L622.93,63.00 L624.14,63.00 L625.35,63.00 L626.55,63.00 L627.76,63.00 L628.97,63.00 L630.18,63.00 L631.39,63.00 L632.60,63.00 L633.81,63.00 L635.01,63.00 L636.22,63.00 L637.43,63.00 L638.64,63.00 L639.85,63.00 L641.06,63.00 L642.26,63.00 L643.47,63.00 L644.68,63.00 L645.89,63.00 L647.10,63.00 L648.31,63.00 L649.51,63.00 L650.72,63.00 L651.93,63.00 L653.14,63.00 L654.35,63.00 L655.56,63.00 L656.76,63.00 L657.97,63.00 L659.18,63.00 L660.39,63.00 L661.60,63.00 L662.81,63.00 L664.02,63.00 L665.22,63.00 L666.43,63.00 L667.64,63.00 L668.85,63.00 L670.06,63.00 L671.27,63.00 L672.47,63.00 L673.68,63.00 L674.89,63.00 L676.10,63.00 L677.31,63.00 L678.52,63.00 L679.72,63.00 L680.93,63.00 L682.14,63.00 L683.35,63.00 L684.56,63.00 L685.77,63.00 L686.97,63.00 L688.18,63.00 L689.39,63.00 L690.60,63.00" stroke="#ff0000" stroke-width="1.4" stroke-dasharray="6.1 3.58" stroke-dashoffset="1.3"/>
<path d="M86.40,374.40 L86.70,374.39 L87.00,374.36 L87.31,374.31 L87.61,374.25 L87.91,374.17 L88.21,374.09 L88.51,373.99 L88.82,373.89 L89.12,373.78 L89.42,373.68 L89.72,373.55 L90.03,373.40 L90.33,373.21 L90.63,373.01 L90.93,372.79 L91.23,372.55 L91.54,372.29 L91.84,372.03 L92.14,371.76 L92.44,371.49 L92.74,371.20 L93.05,370.90 L93.35,370.57 L93.65,370.22 L93.95,369.86 L94.25,369.49 L94.56,369.10 L94.86,368.70 L95.16,368.29 L95.46,367.87 L95.77,367.44 L96.07,367.00 L96.37,366.53 L96.67,366.05 L96.97,365.56 L97.28,365.05 L97.58,364.53 L97.88,363.99 L98.18,363.45 L98.48,362.90 L98.79,362.34 L99.09,361.77 L99.39,361.17 L99.69,360.56 L99.99,359.94 L100.30,359.31 L100.60,358.67 L100.90,358.01 L101.20,357.35 L101.51,356.68 L101.81,355.99 L102.11,355.28 L102.41,354.55 L102.71,353.81 L103.02,353.05 L103.32,352.30 L103.62,351.54 L103.92,350.78 L104.22,350.03 L104.53,349.29 L104.83,348.57 L105.13,347.85 L105.43,347.14 L105.73,346.44 L106.04,345.75 L106.34,345.06 L106.64,344.38 L106.94,343.70 L107.24,343.02 L107.55,342.34 L107.85,341.66 L108.15,340.98 L108.45,340.30 L108.76,339.62 L109.06,338.93 L109.36,338.23 L109.66,337.53 L109.96,336.82 L110.27,336.10 L110.57,335.38 L110.87,334.64 L111.17,333.88 L111.47,333.12 L111.78,332.34 L112.08,331.54 L112.38,330.73 L112.68,329.89 L112.98,329.04 L113.29,328.16 L113.59,327.23 L113.89,326.25 L114.19,325.25 L114.50,324.21 L114.80,323.15 L115.10,322.07 L115.40,320.98 L115.70,319.89 L116.01,318.79 L116.31,317.70 L116.61,316.63 L116.91,315.57 L117.21,314.54 L117.52,313.53 L117.82,312.56 L118.12,311.63 L118.42,310.73 L118.72,309.84 L119.03,308.98 L119.33,308.12 L119.63,307.28 L119.93,306.45 L120.24,305.64 L120.54,304.83 L120.84,304.02 L121.14,303.22 L121.44,302.43 L121.75,301.63 L122.05,300.83 L122.35,300.03 L122.65,299.23 L122.95,298.42 L123.26,297.60 L123.56,296.77 L123.86,295.93 L124.16,295.08 L124.46,294.21 L124.77,293.33 L125.07,292.43 L125.37,291.53 L125.67,290.61 L125.98,289.69 L126.28,288.75 L126.58,287.82 L126.88,286.88 L127.18,285.94 L127.49,285.00 L127.79,284.06 L128.09,283.13 L128.39,282.20 L128.69,281.27 L129.00,280.36 L129.30,279.45 L129.60,278.56 L129.90,277.68 L130.20,276.82 L130.51,275.96 L130.81,275.12 L131.11,274.28 L131.41,273.46 L131.72,272.64 L132.02,271.82 L132.32,271.01 L132.62,270.21 L132.92,269.41 L133.23,268.61 L133.53,267.81 L133.83,267.00 L134.13,266.20 L134.43,265.39 L134.74,264.58 L135.04,263.77 L135.34,262.95 L135.64,262.12 L135.94,261.28 L136.25,260.43 L136.55,259.58 L136.85,258.70 L137.15,257.81 L137.45,256.91 L137.76,255.99 L138.06,255.07 L138.36,254.14 L138.66,253.21 L138.97,252.28 L139.27,251.35 L139.57,250.42 L139.87,249.50 L140.17,248.59 L140.48,247.69 L140.78,246.80 L141.08,245.93 L141.38,245.08 L141.68,244.25 L141.99,243.44 L142.29,242.65 L142.59,241.88 L142.89,241.13 L143.19,240.39 L143.50,239.66 L143.80,238.95 L144.10,238.25 L144.40,237.56 L144.71,236.87 L145.01,236.19 L145.31,235.52 L145.61,234.85 L145.91,234.17 L146.22,233.50 L146.52,232.83 L146.82,232.15 L147.12,231.47 L147.42,230.78 L147.73,230.08 L148.03,229.38 L148.33,228.66 L148.63,227.93 L148.93,227.18 L149.24,226.42 L149.54,225.64 L149.84,224.84 L150.14,224.01 L150.45,223.17 L150.75,222.31 L151.05,221.44 L151.35,220.55 L151.65,219.66 L151.96,218.76 L152.26,217.85 L152.56,216.93 L152.86,216.02 L153.16,215.11 L153.47,214.20 L153.77,213.30 L154.07,212.40 L154.37,211.52 L154.67,210.64 L154.98,209.78 L155.28,208.94 L155.58,208.12 L155.88,207.32 L156.19,206.54 L156.49,205.78 L156.79,205.05 L157.09,204.32 L157.39,203.61 L157.70,202.91 L158.00,202.22 L158.30,201.54 L158.60,200.87 L158.90,200.21 L159.21,199.55 L159.51,198.90 L159.81,198.25 L160.11,197.61 L160.41,196.98 L160.72,196.34 L161.02,195.71 L161.32,195.08 L161.62,194.45 L161.93,193.82 L162.23,193.18 L162.53,192.55 L162.83,191.91 L163.13,191.27 L163.44,190.64 L163.74,190.00 L164.04,189.36 L164.34,188.73 L164.64,188.09 L164.95,187.46 L165.25,186.83 L165.55,186.20 L165.85,185.57 L166.15,184.94 L166.46,184.32 L166.76,183.70 L167.06,183.09 L167.36,182.48 L167.66,181.87 L167.97,181.26 L168.27,180.67 L168.57,180.07 L168.87,179.48 L169.18,178.90 L169.48,178.32 L169.78,177.75 L170.08,177.19 L170.38,176.63 L170.69,176.08 L170.99,175.53 L171.29,174.99 L171.59,174.45 L171.89,173.92 L172.20,173.39 L172.50,172.87 L172.80,172.35 L173.10,171.83 L173.40,171.32 L173.71,170.81 L174.01,170.30 L174.31,169.80 L174.61,169.30 L174.92,168.80 L175.22,168.31 L175.52,167.81 L175.82,167.32 L176.12,166.83 L176.43,166.34 L176.73,165.85 L177.03,165.37 L177.33,164.88 L177.63,164.40 L177.94,163.91 L178.24,163.43 L178.54,162.94 L178.84,162.46 L179.14,161.98 L179.45,161.49 L179.75,161.00 L180.05,160.52 L180.35,160.03 L180.66,159.54 L180.96,159.05 L181.26,158.55 L181.56,158.06 L181.86,157.56 L182.17,157.07 L182.47,156.57 L182.77,156.08 L183.07,155.58 L183.37,155.09 L183.68,154.59 L183.98,154.10 L184.28,153.61 L184.58,153.13 L184.88,152.64 L185.19,152.16 L185.49,151.68 L185.79,151.20 L186.09,150.73 L186.40,150.26 L186.70,149.79 L187.00,149.33 L187.30,148.88 L187.60,148.43 L187.91,147.98 L188.21,147.54 L188.51,147.11 L188.81,146.68 L189.11,146.26 L189.42,145.85 L189.72,145.44 L190.02,145.04 L190.32,144.64 L190.62,144.24 L190.93,143.85 L191.23,143.46 L191.53,143.08 L191.83,142.69 L192.13,142.31 L192.44,141.94 L192.74,141.56 L193.04,141.19 L193.34,140.83 L193.65,140.46 L193.95,140.10 L194.25,139.74 L194.55,139.38 L194.85,139.03 L195.16,138.67 L195.46,138.32 L195.76,137.97 L196.06,137.63 L196.36,137.28 L196.67,136.94 L196.97,136.60 L197.27,136.27 L197.57,135.93 L197.87,135.60 L198.18,135.26 L198.48,134.93 L198.78,134.60 L199.08,134.28 L199.39,133.95 L199.69,133.63 L199.99,133.30 L200.29,132.98 L200.59,132.66 L200.90,132.34 L201.20,132.02 L201.50,131.70 L201.80,131.39 L202.10,131.07 L202.41,130.76 L202.71,130.44 L203.01,130.13 L203.31,129.81 L203.61,129.50 L203.92,129.19 L204.22,128.88 L204.52,128.57 L204.82,128.26 L205.13,127.95 L205.43,127.65 L205.73,127.34 L206.03,127.04 L206.33,126.74 L206.64,126.44 L206.94,126.14 L207.24,125.84 L207.54,125.55 L207.84,125.26 L208.15,124.96 L208.45,124.67 L208.75,124.39 L209.05,124.10 L209.35,123.82 L209.66,123.54 L209.96,123.26 L210.26,122.99 L210.56,122.71 L210.87,122.44 L211.17,122.17 L211.47,121.91 L211.77,121.65 L212.07,121.39 L212.38,121.13 L212.68,120.87 L212.98,120.62 L213.28,120.38 L213.58,120.13 L213.89,119.89 L214.19,119.65 L214.49,119.42 L214.79,119.18 L215.09,118.95 L215.40,118.73 L215.70,118.50 L216.00,118.28 L216.30,118.06 L216.61,117.84 L216.91,117.62 L217.21,117.41 L217.51,117.20 L217.81,116.99 L218.12,116.78 L218.42,116.57 L218.72,116.37 L219.02,116.17 L219.32,115.96 L219.63,115.76 L219.93,115.57 L220.23,115.37 L220.53,115.17 L220.83,114.98 L221.14,114.78 L221.44,114.59 L221.74,114.39 L222.04,114.20 L222.34,114.01 L222.65,113.82 L222.95,113.63 L223.25,113.44 L223.55,113.25 L223.86,113.06 L224.16,112.87 L224.46,112.68 L224.76,112.49 L225.06,112.30 L225.37,112.11 L225.67,111.93 L225.97,111.74 L226.27,111.55 L226.57,111.35 L226.88,111.16 L227.18,110.97 L227.48,110.78 L227.78,110.59 L228.08,110.39 L228.39,110.20 L228.69,110.00 L228.99,109.80 L229.29,109.60 L229.60,109.40 L229.90,109.20 L230.20,109.00 L230.50,108.79 L230.80,108.59 L231.11,108.38 L231.41,108.17 L231.71,107.96 L232.01,107.74 L232.31,107.53 L232.62,107.31 L232.92,107.10 L233.22,106.88 L233.52,106.67 L233.82,106.45 L234.13,106.23 L234.43,106.02 L234.73,105.80 L235.03,105.58 L235.34,105.37 L235.64,105.15 L235.94,104.93 L236.24,104.72 L236.54,104.50 L236.85,104.29 L237.15,104.08 L237.45,103.86 L237.75,103.65 L238.05,103.45 L238.36,103.24 L238.66,103.03 L238.96,102.83 L239.26,102.63 L239.56,102.43 L239.87,102.23 L240.17,102.03 L240.47,101.84 L240.77,101.65 L241.08,101.46 L241.38,101.27 L241.68,101.09 L241.98,100.91 L242.28,100.74 L242.59,100.56 L242.89,100.39 L243.19,100.23 L243.49,100.06 L243.79,99.91 L244.10,99.75 L244.40,99.60 L244.70,99.45 L245.00,99.31 L245.30,99.16 L245.61,99.02 L245.91,98.88 L246.21,98.74 L246.51,98.60 L246.82,98.46 L247.12,98.33 L247.42,98.20 L247.72,98.06 L248.02,97.93 L248.33,97.80 L248.63,97.67 L248.93,97.55 L249.23,97.42 L249.53,97.30 L249.84,97.17 L250.14,97.05 L250.44,96.93 L250.74,96.81 L251.04,96.69 L251.35,96.57 L251.65,96.46 L251.95,96.34 L252.25,96.22 L252.56,96.11 L252.86,96.00 L253.16,95.88 L253.46,95.77 L253.76,95.66 L254.07,95.55 L254.37,95.44 L254.67,95.33 L254.97,95.22 L255.27,95.12 L255.58,95.01 L255.88,94.90 L256.18,94.80 L256.48,94.69 L256.78,94.58 L257.09,94.48 L257.39,94.37 L257.69,94.27 L257.99,94.17 L258.29,94.06 L258.60,93.96 L258.90,93.86 L259.20,93.75 L259.50,93.65 L259.81,93.55 L260.11,93.44 L260.41,93.34 L260.71,93.24 L261.01,93.14 L261.32,93.03 L261.62,92.93 L261.92,92.83 L262.22,92.72 L262.52,92.62 L262.83,92.52 L263.13,92.42 L263.43,92.32 L263.73,92.22 L264.03,92.11 L264.34,92.01 L264.64,91.91 L264.94,91.82 L265.24,91.72 L265.55,91.62 L265.85,91.52 L266.15,91.42 L266.45,91.32 L266.75,91.23 L267.06,91.13 L267.36,91.03 L267.66,90.94 L267.96,90.84 L268.26,90.75 L268.57,90.65 L268.87,90.56 L269.17,90.46 L269.47,90.37 L269.77,90.28 L270.08,90.18 L270.38,90.09 L270.68,90.00 L270.98,89.91 L271.29,89.81 L271.59,89.72 L271.89,89.63 L272.19,89.54 L272.49,89.45 L272.80,89.36 L273.10,89.27 L273.40,89.18 L273.70,89.10 L274.00,89.01 L274.31,88.92 L274.61,88.83 L274.91,88.74 L275.21,88.66 L275.51,88.57 L275.82,88.49 L276.12,88.40 L276.42,88.31 L276.72,88.23 L277.03,88.14 L277.33,88.06 L277.63,87.98 L277.93,87.89 L278.23,87.81 L278.54,87.73 L278.84,87.64 L279.14,87.56 L279.44,87.48 L279.74,87.40 L280.05,87.32 L280.35,87.23 L280.65,87.15 L280.95,87.07 L281.25,86.99 L281.56,86.91 L281.86,86.83 L282.16,86.74 L282.46,86.66 L282.76,86.58 L283.07,86.50 L283.37,86.42 L283.67,86.34 L283.97,86.26 L284.28,86.18 L284.58,86.10 L284.88,86.02 L285.18,85.94 L285.48,85.87 L285.79,85.79 L286.09,85.71 L286.39,85.63 L286.69,85.55 L286.99,85.48 L287.30,85.40 L287.60,85.32 L287.90,85.25 L288.20,85.17 L288.50,85.10 L288.81,85.02 L289.11,84.95 L289.41,84.88 L289.71,84.80 L290.02,84.73 L290.32,84.66 L290.62,84.58 L290.92,84.51 L291.22,84.44 L291.53,84.37 L291.83,84.30 L292.13,84.23 L292.43,84.16 L292.73,84.10 L293.04,84.03 L293.34,83.96 L293.64,83.89 L293.94,83.83 L294.24,83.76 L294.55,83.70 L294.85,83.64 L295.15,83.57 L295.45,83.51 L295.76,83.45 L296.06,83.39 L296.36,83.33 L296.66,83.27 L296.96,83.21 L297.27,83.15 L297.57,83.09 L297.87,83.03 L298.17,82.98 L298.47,82.92 L298.78,82.87 L299.08,82.81 L299.38,82.76 L299.68,82.70 L299.98,82.65 L300.29,82.60 L300.59,82.54 L300.89,82.49 L301.19,82.44 L301.50,82.39 L301.80,82.34 L302.10,82.29 L302.40,82.24 L302.70,82.19 L303.01,82.14 L303.31,82.09 L303.61,82.04 L303.91,82.00 L304.21,81.95 L304.52,81.90 L304.82,81.85 L305.12,81.81 L305.42,81.76 L305.72,81.71 L306.03,81.67 L306.33,81.62 L306.63,81.57 L306.93,81.53 L307.24,81.48 L307.54,81.44 L307.84,81.39 L308.14,81.35 L308.44,81.30 L308.75,81.26 L309.05,81.21 L309.35,81.16 L309.65,81.12 L309.95,81.07 L310.26,81.03 L310.56,80.98 L310.86,80.94 L311.16,80.89 L311.46,80.85 L311.77,80.80 L312.07,80.76 L312.37,80.71 L312.67,80.67 L312.98,80.62 L313.28,80.57 L313.58,80.53 L313.88,80.48 L314.18,80.43 L314.49,80.39 L314.79,80.34 L315.09,80.29 L315.39,80.24 L315.69,80.19 L316.00,80.15 L316.30,80.10 L316.60,80.05 L316.90,80.00 L317.20,79.95 L317.51,79.90 L317.81,79.85 L318.11,79.80 L318.41,79.75 L318.71,79.70 L319.02,79.64 L319.32,79.59 L319.62,79.54 L319.92,79.49 L320.23,79.44 L320.53,79.39 L320.83,79.34 L321.13,79.29 L321.43,79.24 L321.74,79.19 L322.04,79.14 L322.34,79.08 L322.64,79.03 L322.94,78.98 L323.25,78.93 L323.55,78.89 L323.85,78.84 L324.15,78.79 L324.45,78.74 L324.76,78.69 L325.06,78.64 L325.36,78.59 L325.66,78.55 L325.97,78.50 L326.27,78.46 L326.57,78.41 L326.87,78.36 L327.17,78.32 L327.48,78.28 L327.78,78.23 L328.08,78.19 L329.29,78.03 L330.50,77.87 L331.71,77.73 L332.91,77.61 L334.12,77.50 L335.33,77.39 L336.54,77.30 L337.75,77.21 L338.96,77.13 L340.16,77.05 L341.37,76.98 L342.58,76.90 L343.79,76.83 L345.00,76.75 L346.21,76.67 L347.41,76.59 L348.62,76.51 L349.83,76.41 L351.04,76.31 L352.25,76.20 L353.46,76.08 L354.66,75.96 L355.87,75.83 L357.08,75.69 L358.29,75.56 L359.50,75.43 L360.71,75.30 L361.92,75.17 L363.12,75.05 L364.33,74.94 L365.54,74.83 L366.75,74.74 L367.96,74.66 L369.17,74.59 L370.37,74.54 L371.58,74.49 L372.79,74.44 L374.00,74.40 L375.21,74.37 L376.42,74.33 L377.62,74.30 L378.83,74.26 L380.04,74.23 L381.25,74.20 L382.46,74.16 L383.67,74.12 L384.87,74.07 L386.08,74.02 L387.29,73.97 L388.50,73.90 L389.71,73.82 L390.92,73.73 L392.13,73.63 L393.33,73.53 L394.54,73.42 L395.75,73.31 L396.96,73.20 L398.17,73.10 L399.38,73.00 L400.58,72.90 L401.79,72.81 L403.00,72.73 L404.21,72.66 L405.42,72.60 L406.63,72.55 L407.83,72.50 L409.04,72.46 L410.25,72.41 L411.46,72.37 L412.67,72.33 L413.88,72.29 L415.08,72.26 L416.29,72.22 L417.50,72.19 L418.71,72.15 L419.92,72.12 L421.13,72.09 L422.34,72.06 L423.54,72.03 L424.75,72.00 L425.96,71.98 L427.17,71.95 L428.38,71.92 L429.59,71.89 L430.79,71.87 L432.00,71.84 L433.21,71.81 L434.42,71.78 L435.63,71.75 L436.84,71.72 L438.04,71.69 L439.25,71.66 L440.46,71.63 L441.67,71.60 L442.88,71.56 L444.09,71.53 L445.29,71.50 L446.50,71.46 L447.71,71.42 L448.92,71.39 L450.13,71.35 L451.34,71.32 L452.55,71.28 L453.75,71.24 L454.96,71.21 L456.17,71.17 L457.38,71.13 L458.59,71.10 L459.80,71.06 L461.00,71.03 L462.21,70.99 L463.42,70.96 L464.63,70.92 L465.84,70.89 L467.05,70.86 L468.25,70.82 L469.46,70.79 L470.67,70.76 L471.88,70.73 L473.09,70.70 L474.30,70.67 L475.50,70.65 L476.71,70.62 L477.92,70.59 L479.13,70.57 L480.34,70.54 L481.55,70.52 L482.76,70.50 L483.96,70.48 L485.17,70.45 L486.38,70.43 L487.59,70.41 L488.80,70.39 L490.01,70.37 L491.21,70.35 L492.42,70.33 L493.63,70.31 L494.84,70.29 L496.05,70.27 L497.26,70.26 L498.46,70.24 L499.67,70.22 L500.88,70.20 L502.09,70.18 L503.30,70.16 L504.51,70.15 L505.71,70.13 L506.92,70.11 L508.13,70.09 L509.34,70.07 L510.55,70.05 L511.76,70.04 L512.97,70.02 L514.17,70.00 L515.38,69.98 L516.59,69.96 L517.80,69.94 L519.01,69.92 L520.22,69.90 L521.42,69.88 L522.63,69.85 L523.84,69.83 L525.05,69.81 L526.26,69.79 L527.47,69.77 L528.67,69.75 L529.88,69.72 L531.09,69.70 L532.30,69.68 L533.51,69.66 L534.72,69.64 L535.92,69.61 L537.13,69.59 L538.34,69.57 L539.55,69.55 L540.76,69.53 L541.97,69.51 L543.18,69.49 L544.38,69.47 L545.59,69.45 L546.80,69.43 L548.01,69.41 L549.22,69.39 L550.43,69.38 L551.63,69.36 L552.84,69.34 L554.05,69.33 L555.26,69.31 L556.47,69.30 L557.68,69.28 L558.88,69.27 L560.09,69.26 L561.30,69.24 L562.51,69.23 L563.72,69.22 L564.93,69.21 L566.13,69.21 L567.34,69.20 L568.55,69.19 L569.76,69.18 L570.97,69.18 L572.18,69.17 L573.39,69.16 L574.59,69.16 L575.80,69.15 L577.01,69.14 L578.22,69.14 L579.43,69.13 L580.64,69.12 L581.84,69.12 L583.05,69.11 L584.26,69.10 L585.47,69.10 L586.68,69.09 L587.89,69.09 L589.09,69.08 L590.30,69.07 L591.51,69.07 L592.72,69.06 L593.93,69.06 L595.14,69.05 L596.34,69.04 L597.55,69.04 L598.76,69.03 L599.97,69.03 L601.18,69.02 L602.39,69.02 L603.60,69.01 L604.80,69.00 L606.01,69.00 L607.22,68.99 L608.43,68.99 L609.64,68.98 L610.85,68.98 L612.05,68.97 L613.26,68.97 L614.47,68.96 L615.68,68.96 L616.89,68.95 L618.10,68.95 L619.30,68.94 L620.51,68.94 L621.72,68.94 L622.93,68.93 L624.14,68.93 L625.35,68.92 L626.55,68.92 L627.76,68.91 L628.97,68.91 L630.18,68.91 L631.39,68.90 L632.60,68.90 L633.81,68.89 L635.01,68.89 L636.22,68.89 L637.43,68.88 L638.64,68.88 L639.85,68.88 L641.06,68.87 L642.26,68.87 L643.47,68.87 L644.68,68.86 L645.89,68.86 L647.10,68.86 L648.31,68.85 L649.51,68.85 L650.72,68.85 L651.93,68.84 L653.14,68.84 L654.35,68.84 L655.56,68.84 L656.76,68.83 L657.97,68.83 L659.18,68.83 L660.39,68.83 L661.60,68.83 L662.81,68.82 L664.02,68.82 L665.22,68.82 L666.43,68.82 L667.64,68.82 L668.85,68.81 L670.06,68.81 L671.27,68.81 L672.47,68.81 L673.68,68.81 L674.89,68.81 L676.10,68.81 L677.31,68.81 L678.52,68.80 L679.72,68.80 L680.93,68.80 L682.14,68.80 L683.35,68.80 L684.56,68.80 L685.77,68.80 L686.97,68.80 L688.18,68.80 L689.39,68.80 L690.60,68.80" stroke="#0000ff" stroke-width="1.4" stroke-dasharray="18.8 17.5" stroke-dashoffset="0.7"/>
</g>
<g stroke="#000" stroke-width="0.7" fill="none">
<line x1="86.10" y1="374.4" x2="86.10" y2="370.00"/>
<line x1="86.10" y1="0.4" x2="86.10" y2="4.80"/>
<line x1="116.32" y1="374.4" x2="116.32" y2="371.80"/>
<line x1="116.32" y1="0.4" x2="116.32" y2="3.00"/>
<line x1="146.55" y1="374.4" x2="146.55" y2="371.80"/>
<line x1="146.55" y1="0.4" x2="146.55" y2="3.00"/>
<line x1="176.78" y1="374.4" x2="176.78" y2="371.80"/>
<line x1="176.78" y1="0.4" x2="176.78" y2="3.00"/>
<line x1="207.00" y1="374.4" x2="207.00" y2="370.00"/>
<line x1="207.00" y1="0.4" x2="207.00" y2="4.80"/>
<line x1="237.22" y1="374.4" x2="237.22" y2="371.80"/>
<line x1="237.22" y1="0.4" x2="237.22" y2="3.00"/>
<line x1="267.45" y1="374.4" x2="267.45" y2="371.80"/>
<line x1="267.45" y1="0.4" x2="267.45" y2="3.00"/>
<line x1="297.68" y1="374.4" x2="297.68" y2="371.80"/>
<line x1="297.68" y1="0.4" x2="297.68" y2="3.00"/>
<line x1="327.90" y1="374.4" x2="327.90" y2="370.00"/>
<line x1="327.90" y1="0.4" x2="327.90" y2="4.80"/>
<line x1="358.12" y1="374.4" x2="358.12" y2="371.80"/>
<line x1="358.12" y1="0.4" x2="358.12" y2="3.00"/>
<line x1="388.35" y1="374.4" x2="388.35" y2="371.80"/>
<line x1="388.35" y1="0.4" x2="388.35" y2="3.00"/>
<line x1="418.58" y1="374.4" x2="418.58" y2="371.80"/>
<line x1="418.58" y1="0.4" x2="418.58" y2="3.00"/>
<line x1="448.80" y1="374.4" x2="448.80" y2="370.00"/>
<line x1="448.80" y1="0.4" x2="448.80" y2="4.80"/>
<line x1="479.02" y1="374.4" x2="479.02" y2="371.80"/>
<line x1="479.02" y1="0.4" x2="479.02" y2="3.00"/>
<line x1="509.25" y1="374.4" x2="509.25" y2="371.80"/>
<line x1="509.25" y1="0.4" x2="509.25" y2="3.00"/>
<line x1="539.48" y1="374.4" x2="539.48" y2="371.80"/>
<line x1="539.48" y1="0.4" x2="539.48" y2="3.00"/>
<line x1="569.70" y1="374.4" x2="569.70" y2="370.00"/>
<line x1="569.70" y1="0.4" x2="569.70" y2="4.80"/>
<line x1="599.93" y1="374.4" x2="599.93" y2="371.80"/>
<line x1="599.93" y1="0.4" x2="599.93" y2="3.00"/>
<line x1="630.15" y1="374.4" x2="630.15" y2="371.80"/>
<line x1="630.15" y1="0.4" x2="630.15" y2="3.00"/>
<line x1="660.38" y1="374.4" x2="660.38" y2="371.80"/>
<line x1="660.38" y1="0.4" x2="660.38" y2="3.00"/>
<line x1="690.60" y1="374.4" x2="690.60" y2="370.00"/>
<line x1="690.60" y1="0.4" x2="690.60" y2="4.80"/>
<line x1="86.1" y1="374.40" x2="90.50" y2="374.40"/>
<line x1="690.6" y1="374.40" x2="686.20" y2="374.40"/>
<line x1="86.1" y1="361.94" x2="88.70" y2="361.94"/>
<line x1="690.6" y1="361.94" x2="688.00" y2="361.94"/>
<line x1="86.1" y1="349.49" x2="88.70" y2="349.49"/>
<line x1="690.6" y1="349.49" x2="688.00" y2="349.49"/>
<line x1="86.1" y1="337.03" x2="88.70" y2="337.03"/>
<line x1="690.6" y1="337.03" x2="688.00" y2="337.03"/>
<line x1="86.1" y1="324.58" x2="88.70" y2="324.58"/>
<line x1="690.6" y1="324.58" x2="688.00" y2="324.58"/>
<line x1="86.1" y1="312.12" x2="90.50" y2="312.12"/>
<line x1="690.6" y1="312.12" x2="686.20" y2="312.12"/>
<line x1="86.1" y1="299.66" x2="88.70" y2="299.66"/>
<line x1="690.6" y1="299.66" x2="688.00" y2="299.66"/>
<line x1="86.1" y1="287.21" x2="88.70" y2="287.21"/>
<line x1="690.6" y1="287.21" x2="688.00" y2="287.21"/>
<line x1="86.1" y1="274.75" x2="88.70" y2="274.75"/>
<line x1="690.6" y1="274.75" x2="688.00" y2="274.75"/>
<line x1="86.1" y1="262.30" x2="88.70" y2="262.30"/>
<line x1="690.6" y1="262.30" x2="688.00" y2="262.30"/>
<line x1="86.1" y1="249.84" x2="90.50" y2="249.84"/>
<line x1="690.6" y1="249.84" x2="686.20" y2="249.84"/>
<line x1="86.1" y1="237.38" x2="88.70" y2="237.38"/>
<line x1="690.6" y1="237.38" x2="688.00" y2="237.38"/>
<line x1="86.1" y1="224.93" x2="88.70" y2="224.93"/>
<line x1="690.6" y1="224.93" x2="688.00" y2="224.93"/>
<line x1="86.1" y1="212.47" x2="88.70" y2="212.47"/>
<line x1="690.6" y1="212.47" x2="688.00" y2="212.47"/>
<line x1="86.1" y1="200.02" x2="88.70" y2="200.02"/>
<line x1="690.6" y1="200.02" x2="688.00" y2="200.02"/>
<line x1="86.1" y1="187.56" x2="90.50" y2="187.56"/>
<line x1="690.6" y1="187.56" x2="686.20" y2="187.56"/>
<line x1="86.1" y1="175.10" x2="88.70" y2="175.10"/>
<line x1="690.6" y1="175.10" x2="688.00" y2="175.10"/>
<line x1="86.1" y1="162.65" x2="88.70" y2="162.65"/>
<line x1="690.6" y1="162.65" x2="688.00" y2="162.65"/>
<line x1="86.1" y1="150.19" x2="88.70" y2="150.19"/>
<line x1="690.6" y1="150.19" x2="688.00" y2="150.19"/>
<line x1="86.1" y1="137.74" x2="88.70" y2="137.74"/>
<line x1="690.6" y1="137.74" x2="688.00" y2="137.74"/>
<line x1="86.1" y1="125.28" x2="90.50" y2="125.28"/>
<line x1="690.6" y1="125.28" x2="686.20" y2="125.28"/>
<line x1="86.1" y1="112.82" x2="88.70" y2="112.82"/>
<line x1="690.6" y1="112.82" x2="688.00" y2="112.82"/>
<line x1="86.1" y1="100.37" x2="88.70" y2="100.37"/>
<line x1="690.6" y1="100.37" x2="688.00" y2="100.37"/>
<line x1="86.1" y1="87.91" x2="88.70" y2="87.91"/>
<line x1="690.6" y1="87.91" x2="688.00" y2="87.91"/>
<line x1="86.1" y1="75.46" x2="88.70" y2="75.46"/>
<line x1="690.6" y1="75.46" x2="688.00" y2="75.46"/>
<line x1="86.1" y1="63.00" x2="90.50" y2="63.00"/>
<line x1="690.6" y1="63.00" x2="686.20" y2="63.00"/>
<line x1="86.1" y1="50.54" x2="88.70" y2="50.54"/>
<line x1="690.6" y1="50.54" x2="688.00" y2="50.54"/>
<line x1="86.1" y1="38.09" x2="88.70" y2="38.09"/>
<line x1="690.6" y1="38.09" x2="688.00" y2="38.09"/>
<line x1="86.1" y1="25.63" x2="88.70" y2="25.63"/>
<line x1="690.6" y1="25.63" x2="688.00" y2="25.63"/>
<line x1="86.1" y1="13.18" x2="88.70" y2="13.18"/>
<line x1="690.6" y1="13.18" x2="688.00" y2="13.18"/>
</g>
<rect x="86.1" y="0.4" width="604.50" height="374.00" fill="none" stroke="#000" stroke-width="0.7"/>
<g>
<text x="37.60" y="319.57">0.1</text>
<text x="37.60" y="257.29">0.2</text>
<text x="37.60" y="195.01">0.3</text>
<text x="37.60" y="132.73">0.4</text>
<text x="37.60" y="70.45">0.5</text>
<text x="199.70" y="397.00">2</text>
<text x="320.60" y="397.00">4</text>
<text x="441.50" y="397.00">6</text>
<text x="562.40" y="397.00">8</text>
<text x="676.80" y="397.00">10</text>
<text class="lt" transform="translate(373.85,426) scale(1.1212,1)">kt</text>
<text class="lt" transform="translate(22.2,292.10) rotate(-90) scale(1.1212,1)">Linear entropy</text>
</g>
<g fill="#fff">
<rect x="42.35" y="310.04" width="3.99" height="4.14"/>
<rect x="42.35" y="247.76" width="3.99" height="4.14"/>
<rect x="42.35" y="185.48" width="3.99" height="4.14"/>
<rect x="42.35" y="123.20" width="3.99" height="4.14"/>
<rect x="42.35" y="60.92" width="3.99" height="4.14"/>
<rect x="696.35" y="387.47" width="3.99" height="4.14"/>
</g>
<g fill="#000">
<circle cx="59.14" cy="317.62" r="2.1"/>
<circle cx="59.14" cy="255.34" r="2.1"/>
<circle cx="59.14" cy="193.06" r="2.1"/>
<circle cx="59.14" cy="130.78" r="2.1"/>
<circle cx="59.14" cy="68.50" r="2.1"/>
</g>
</svg>
</body></html>
